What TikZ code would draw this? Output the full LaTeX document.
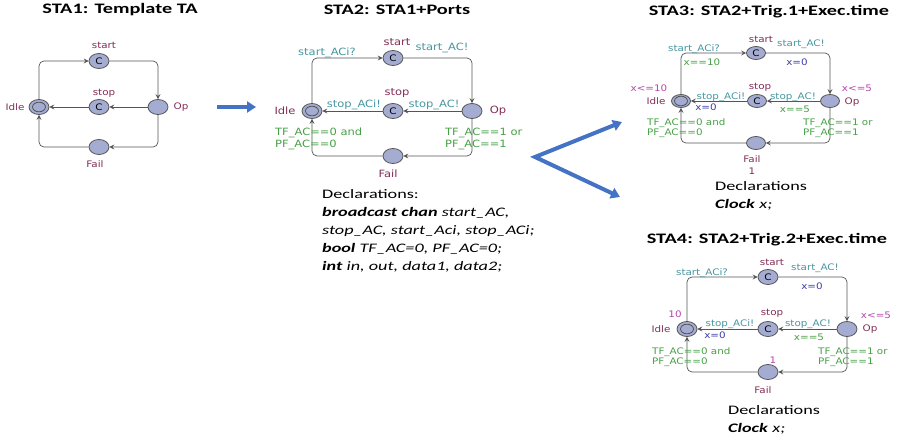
\documentclass[tikz,border=0pt]{standalone}
\usepackage{fontspec}
\setmainfont[FakeStretch=1.4]{Carlito}
\newfontfamily\uppfont[FakeStretch=1.15]{DejaVu Sans}
\usepackage{tikz}
\usetikzlibrary{shapes.geometric, arrows.meta, positioning}
\definecolor{locfill}{RGB}{165,172,210}
\definecolor{locname}{RGB}{130,45,85}
\definecolor{synccol}{RGB}{70,150,160}
\definecolor{guardcol}{RGB}{70,160,70}
\definecolor{assigncol}{RGB}{60,60,170}
\definecolor{invcol}{RGB}{180,70,170}
\definecolor{edgegray}{RGB}{85,85,85}
\definecolor{arrowblue}{RGB}{68,114,196}

\tikzset{
  loc/.style={ellipse, draw=edgegray, fill=locfill, line width=0.8pt,
              minimum width=20pt, minimum height=15pt, inner sep=0pt,
              font=\uppfont\fontsize{9}{9}\selectfont},
  smallloc/.style={loc, minimum width=19pt, minimum height=13pt},
  initloc/.style={loc, path picture={\draw[edgegray, line width=0.8pt]
              (path picture bounding box.center) ellipse (6.5pt and 4.8pt);}},
  trans/.style={draw=edgegray, line width=0.7pt, rounded corners=5pt,
              -{Stealth[length=5pt,width=5pt,inset=2pt]}},
  lbl/.style={inner sep=0pt, align=left, font=\uppfont\fontsize{9}{10.5}\selectfont},
  biglbl/.style={lbl, font=\uppfont\fontsize{10}{12}\selectfont},
  title/.style={inner sep=0pt, font=\bfseries\fontsize{14.5}{16}\selectfont},
  decl/.style={inner sep=0pt, anchor=west, align=left, font=\fontsize{13}{18}\selectfont},
  bigarrow/.style={draw=arrowblue, line width=4pt, line join=miter,
              -{Triangle[length=9pt,width=11pt]}},
  bigfork/.style={draw=arrowblue, line width=4pt, line join=miter,
              {Triangle[length=9pt,width=11pt]}-{Triangle[length=9pt,width=11pt]}},
}

\begin{document}
\begin{tikzpicture}[x=1pt,y=-1pt]
  \useasboundingbox (0,0) rectangle (906,441);

  % STA1
  \node[title] (t1) at (120,10) {STA1: Template TA};
  \node[initloc] (s1idle) at (39,107) {};
  \node[loc] (s1start) at (99,61) {C};
  \node[loc] (s1stop) at (99,107) {C};
  \node[loc] (s1op) at (158,107) {};
  \node[loc] (s1fail) at (99,147) {};
  \draw[trans] (s1idle) |- (s1start);
  \draw[trans] (s1start) -| (s1op);
  \draw[trans] (s1op) -- (s1stop);
  \draw[trans] (s1stop) -- (s1idle);
  \draw[trans] (s1op) |- (s1fail);
  \draw[trans] (s1fail) -| (s1idle);
  \node[lbl, text=locname] (s1startname) at (104,45) {start};
  \node[lbl, text=locname] (s1stopname) at (104,93) {stop};
  \node[lbl, text=locname] (s1idlename) at (15,107) {Idle};
  \node[lbl, text=locname] (s1opname) at (181,107) {Op};
  \node[lbl, text=locname] (s1failname) at (95,164) {Fail};

  % arrows between templates
  \coordinate (go1) at (217,107);
  \coordinate (go2) at (256,107);
  \draw[bigarrow] (go1) -- (go2);
  \coordinate (fork) at (535,157);
  \coordinate (to3) at (622,122);
  \coordinate (to4) at (620,197);
  \draw[bigfork] (to3) -- (fork) -- (to4);

  % STA2
  \node[title] (t2) at (397,10) {STA2: STA1+Ports};
  \node[initloc] (s2idle) at (312,111) {};
  \node[loc] (s2start) at (393,58) {C};
  \node[loc] (s2stop) at (393,111) {C};
  \node[loc] (s2op) at (472,111) {};
  \node[loc] (s2fail) at (393,156) {};
  \draw[trans] (s2idle) |- (s2start);
  \draw[trans] (s2start) -| (s2op);
  \draw[trans] (s2op) -- (s2stop);
  \draw[trans] (s2stop) -- (s2idle);
  \draw[trans] (s2op) |- (s2fail);
  \draw[trans] (s2fail) -| (s2idle);
  \node[biglbl, text=locname] (s2startname) at (397,42) {start};
  \node[biglbl, text=locname] (s2stopname) at (397,93) {stop};
  \node[biglbl, text=locname] (s2idlename) at (285,111) {Idle};
  \node[biglbl, text=locname] (s2opname) at (498,111) {Op};
  \node[biglbl, text=locname] (s2failname) at (388,174) {Fail};
  \node[biglbl, text=synccol] (s2sync1) at (327,53) {start\_ACi?};
  \node[biglbl, text=synccol] (s2sync2) at (442,48) {start\_AC!};
  \node[biglbl, text=synccol] (s2sync3) at (434,105) {stop\_AC!};
  \node[biglbl, text=synccol] (s2sync4) at (354,105) {stop\_ACi!};
  \node[biglbl, text=guardcol, anchor=west] (s2guard1) at (275,139) {TF\_AC==0 and\\PF\_AC==0};
  \node[biglbl, text=guardcol, anchor=west] (s2guard2) at (445,139) {TF\_AC==1 or\\PF\_AC==1};
  \node[decl] (s2decl) at (322,231) {Declarations:\\
    \textbf{\textit{broadcast chan}} \textit{start\_AC,}\\
    \textit{stop\_AC, start\_Aci, stop\_ACi;}\\
    \textbf{\textit{bool}} \textit{TF\_AC=0, PF\_AC=0;}\\
    \textbf{\textit{int}} \textit{in, out, data1, data2;}};

  % STA3
  \node[title] (t3) at (769,12) {STA3: STA2+Trig.1+Exec.time};
  \node[initloc, smallloc] (s3idle) at (681,101) {};
  \node[smallloc] (s3start) at (756,53) {C};
  \node[smallloc] (s3stop) at (757,101) {C};
  \node[smallloc] (s3op) at (830,101) {};
  \node[smallloc] (s3fail) at (756,143) {};
  \draw[trans] (s3idle) |- (s3start);
  \draw[trans] (s3start) -| (s3op);
  \draw[trans] (s3op) -- (s3stop);
  \draw[trans] (s3stop) -- (s3idle);
  \draw[trans] (s3op) |- (s3fail);
  \draw[trans] (s3fail) -| (s3idle);
  \node[lbl, text=locname] (s3startname) at (761,39) {start};
  \node[lbl, text=locname] (s3stopname) at (760,87) {stop};
  \node[lbl, text=locname] (s3idlename) at (656,101) {Idle};
  \node[lbl, text=locname] (s3opname) at (852,102) {Op};
  \node[lbl, text=locname] (s3failname) at (752,159) {Fail};
  \node[lbl, text=locname] (s3failrate) at (752,171) {1};
  \node[lbl, text=invcol] (s3inv1) at (649,88) {x<=10};
  \node[lbl, text=invcol] (s3inv2) at (857,88) {x<=5};
  \node[lbl, text=synccol] (s3sync1) at (694,49) {start\_ACi?};
  \node[lbl, text=guardcol] (s3guard1) at (702,62) {x==10};
  \node[lbl, text=synccol] (s3sync2) at (801,44) {start\_AC!};
  \node[lbl, text=assigncol] (s3set1) at (797,62) {x=0};
  \node[lbl, text=synccol] (s3sync3) at (793,97) {stop\_AC!};
  \node[lbl, text=guardcol] (s3guard2) at (795,109) {x==5};
  \node[lbl, text=synccol] (s3sync4) at (721,97) {stop\_ACi!};
  \node[lbl, text=assigncol] (s3set2) at (706,107) {x=0};
  \node[lbl, text=guardcol, anchor=west] (s3guard3) at (647,128) {TF\_AC==0 and\\PF\_AC==0};
  \node[lbl, text=guardcol, anchor=west] (s3guard4) at (803,128) {TF\_AC==1 or\\PF\_AC==1};
  \node[decl] (s3decl) at (715,196) {Declarations\\\textbf{\textit{Clock}} \textit{x;}};

  % STA4
  \node[title] (t4) at (767,240) {STA4: STA2+Trig.2+Exec.time};
  \node[initloc] (s4idle) at (687,329) {};
  \node[loc] (s4start) at (768,277) {C};
  \node[loc] (s4stop) at (768,329) {C};
  \node[loc] (s4op) at (847,329) {};
  \node[loc] (s4fail) at (768,372) {};
  \draw[trans] (s4idle) |- (s4start);
  \draw[trans] (s4start) -| (s4op);
  \draw[trans] (s4op) -- (s4stop);
  \draw[trans] (s4stop) -- (s4idle);
  \draw[trans] (s4op) |- (s4fail);
  \draw[trans] (s4fail) -| (s4idle);
  \node[lbl, text=locname] (s4startname) at (772,262) {start};
  \node[lbl, text=locname] (s4stopname) at (772,313) {stop};
  \node[lbl, text=locname] (s4idlename) at (661,329) {Idle};
  \node[lbl, text=locname] (s4opname) at (870,329) {Op};
  \node[lbl, text=locname] (s4failname) at (763,390) {Fail};
  \node[lbl, text=invcol] (s4idlerate) at (675,314) {10};
  \node[lbl, text=invcol] (s4failrate) at (773,360) {1};
  \node[lbl, text=invcol] (s4inv) at (876,315) {x<=5};
  \node[lbl, text=synccol] (s4sync1) at (702,273) {start\_ACi?};
  \node[lbl, text=synccol] (s4sync2) at (815,268) {start\_AC!};
  \node[lbl, text=assigncol] (s4set1) at (812,286) {x=0};
  \node[lbl, text=synccol] (s4sync3) at (808,324) {stop\_AC!};
  \node[lbl, text=guardcol] (s4guard1) at (809,337) {x==5};
  \node[lbl, text=synccol] (s4sync4) at (730,324) {stop\_ACi!};
  \node[lbl, text=assigncol] (s4set2) at (715,335) {x=0};
  \node[lbl, text=guardcol, anchor=west] (s4guard2) at (652,357) {TF\_AC==0 and\\PF\_AC==0};
  \node[lbl, text=guardcol, anchor=west] (s4guard3) at (818,357) {TF\_AC==1 or\\PF\_AC==1};
  \node[decl] (s4decl) at (728,419.5) {Declarations\\\textbf{\textit{Clock}} \textit{x;}};
\end{tikzpicture}
\end{document}
